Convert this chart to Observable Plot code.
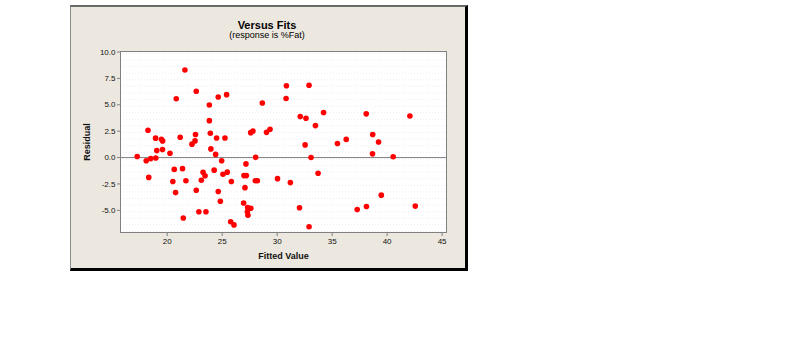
<!DOCTYPE html>
<html><head><meta charset="utf-8">
<script src="https://cdn.jsdelivr.net/npm/d3@7"></script>
<script src="https://cdn.jsdelivr.net/npm/@observablehq/plot@0.6"></script>
<style>
body{margin:0;background:#fff;width:800px;height:355px;overflow:hidden;font-family:"Liberation Sans",Arial,sans-serif;}
#box{position:absolute;left:70px;top:5px;width:394px;height:261px;background:#ece8df;border-top:2px solid #6a6a6a;border-left:1px solid #8a8a8a;border-right:3px solid #000;border-bottom:3px solid #000;}
#title{position:absolute;left:0;width:392px;top:11.7px;text-align:center;font-weight:bold;font-size:11px;line-height:13px;color:#000;}
#sub{position:absolute;left:0;width:392px;top:22.7px;text-align:center;font-size:9px;line-height:11px;color:#000;}
#chart{position:absolute;left:0;top:35px;}
g[aria-label="x-axis label"] text, g[aria-label="y-axis label"] text{font-weight:bold;font-size:9px;}
</style>
</head><body>
<div id="box">
  <div id="title">Versus Fits</div>
  <div id="sub">(response is %Fat)</div>
  <div id="chart"></div>
</div>
<script>
const fitted = [
  21.61, 22.64, 20.82, 24.64, 25.40, 23.83, 23.83, 23.92, 18.25, 28.65,
  30.81, 30.84, 32.90, 32.10, 32.62, 33.48, 34.22, 38.10, 42.07, 38.69,
  36.28, 27.59, 27.80, 29.03, 29.35, 22.57, 18.94, 19.47, 19.58, 21.18,
  24.49, 25.25, 22.25, 22.53, 19.05, 19.57, 20.25, 17.27, 23.97, 24.40,
  28.04, 32.54, 35.48, 39.22, 38.67, 40.55, 33.08,
  18.09, 18.50, 18.96, 18.32, 20.64, 21.39, 20.51, 21.70, 20.76, 21.46,
  22.88, 23.52, 22.64, 23.10, 23.26, 23.44, 24.27, 24.95, 24.64, 24.83,
  25.07, 25.46, 25.83, 25.77, 26.07, 27.16, 26.98, 27.20, 27.07, 26.95,
  27.31, 27.60, 27.29, 27.34, 28.01, 28.20, 30.03, 31.20, 32.03, 32.90,
  33.72, 37.28, 38.12, 39.47, 42.56
];
const residual = [
  8.30, 6.28, 5.57, 5.74, 5.96, 4.98, 3.50, 2.30, 2.59, 5.17,
  5.60, 6.80, 6.85, 3.88, 3.73, 3.03, 4.27, 4.14, 3.94, 2.19,
  1.72, 2.36, 2.52, 2.39, 2.69, 2.19, 1.84, 1.74, 1.58, 1.92,
  1.86, 1.86, 1.27, 1.58, 0.66, 0.76, 0.41, 0.10, 0.82, 0.30,
  0.02, 1.20, 1.33, 1.47, 0.35, 0.08, 0.00,
  -0.30, -0.10, -0.04, -1.88, -1.12, -1.05, -2.27, -2.20, -3.32, -5.72,
  -5.13, -5.13, -3.10, -2.15, -1.40, -1.72, -1.19, -0.30, -3.22, -4.14,
  -1.58, -1.38, -2.27, -6.08, -6.38, -0.60, -1.71, -1.71, -2.85, -4.31,
  -4.73, -4.80, -5.13, -5.46, -2.20, -2.20, -2.00, -2.37, -4.76, -6.55,
  -1.48, -4.93, -4.63, -3.56, -4.60
];
const xTicks = [20, 25, 30, 35, 40, 45];
const yTicks = [-5, -2.5, 0, 2.5, 5, 7.5, 10];
const gridLevels = d3.range(-7, 10.01, 0.625);

const data = fitted.map((x, i) => ({x, y: residual[i]}));

const chart = Plot.plot({
  width: 394, height: 226,
  marginLeft: 49, marginRight: 19, marginTop: 9, marginBottom: 36,
  style: {background: "transparent", fontFamily: "Liberation Sans, Arial, sans-serif", fontSize: "8px", color: "#000", overflow: "visible"},
  x: {domain: [15.75, 45.4]},
  y: {domain: [-7.1, 10.05]},
  marks: [
    Plot.frame({fill: "#fff", stroke: null}),
    Plot.gridY({ticks: gridLevels, stroke: "#c0c0dc", strokeOpacity: 0.3, strokeDasharray: "1,2"}),
    Plot.ruleY([0], {stroke: "#808080"}),
    Plot.frame({stroke: "#808080"}),
    Plot.axisX({ticks: xTicks, tickSize: 4, tickPadding: 2, stroke: "#808080", fill: "#111", label: "Fitted Value", labelAnchor: "center", labelOffset: 26, labelArrow: "none"}),
    Plot.axisY({ticks: yTicks, tickFormat: d => d.toFixed(1), tickSize: 3, tickPadding: 2, stroke: "#808080", fill: "#111", label: "Residual", labelAnchor: "center", labelOffset: 37, labelArrow: "none"}),
    Plot.dot(data, {x: "x", y: "y", r: 2.8, fill: "#ff0000", stroke: null})
  ]
});
document.getElementById("chart").appendChild(chart);
</script>
</body></html>
